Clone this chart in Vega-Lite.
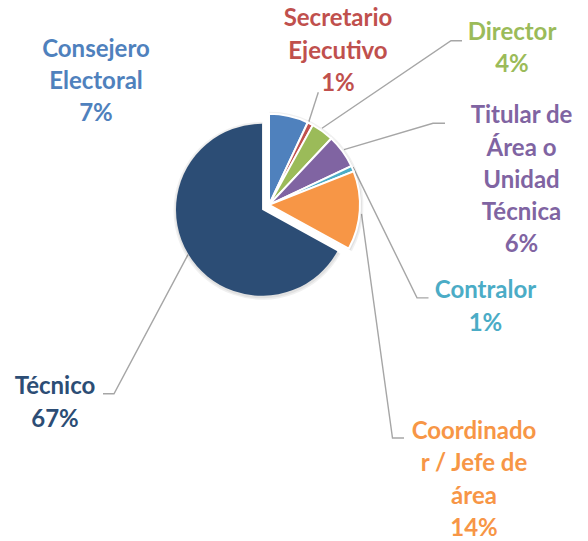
{
  "$schema": "https://vega.github.io/schema/vega-lite/v6.json",
  "width": 588,
  "height": 541,
  "padding": 0,
  "autosize": {"type": "fit", "contains": "padding"},
  "background": "white",
  "config": {"view": {"stroke": null}},
  "datasets": {
    "slices": [
      {"cat": "Consejero Electoral", "pct": 7, "ord": 1},
      {"cat": "Secretario Ejecutivo", "pct": 1, "ord": 2},
      {"cat": "Director", "pct": 4, "ord": 3},
      {"cat": "Titular de Área o Unidad Técnica", "pct": 6, "ord": 4},
      {"cat": "Contralor", "pct": 1, "ord": 5},
      {"cat": "Coordinador / Jefe de área", "pct": 14, "ord": 6},
      {"cat": "Técnico", "pct": 67, "ord": 7}
    ],
    "labels": [
      {"cat": "Consejero Electoral", "text": "Consejero\nElectoral\n7%", "x": 96, "y": 57},
      {"cat": "Secretario Ejecutivo", "text": "Secretario\nEjecutivo\n1%", "x": 338, "y": 26.5},
      {"cat": "Director", "text": "Director\n4%", "x": 512, "y": 40},
      {"cat": "Titular de Área o Unidad Técnica", "text": "Titular de\nÁrea o\nUnidad\nTécnica\n6%", "x": 521.5, "y": 124},
      {"cat": "Contralor", "text": "Contralor\n1%", "x": 485.5, "y": 300},
      {"cat": "Coordinador / Jefe de área", "text": "Coordinado\nr / Jefe de\nárea\n14%", "x": 474, "y": 441.5},
      {"cat": "Técnico", "text": "Técnico\n67%", "x": 55, "y": 396.5}
    ],
    "leaders": [
      {"cat": "Secretario Ejecutivo", "k": 1, "x": 318.3, "y": 92.7},
      {"cat": "Secretario Ejecutivo", "k": 2, "x": 308.5, "y": 123.5},
      {"cat": "Director", "k": 1, "x": 462, "y": 41},
      {"cat": "Director", "k": 2, "x": 451, "y": 41},
      {"cat": "Director", "k": 3, "x": 322, "y": 129},
      {"cat": "Titular de Área o Unidad Técnica", "k": 1, "x": 445, "y": 124},
      {"cat": "Titular de Área o Unidad Técnica", "k": 2, "x": 433, "y": 124},
      {"cat": "Titular de Área o Unidad Técnica", "k": 3, "x": 344, "y": 150.5},
      {"cat": "Contralor", "k": 1, "x": 428.5, "y": 299.5},
      {"cat": "Contralor", "k": 2, "x": 417, "y": 299.5},
      {"cat": "Contralor", "k": 3, "x": 353, "y": 168},
      {"cat": "Coordinador / Jefe de área", "k": 1, "x": 404, "y": 440.5},
      {"cat": "Coordinador / Jefe de área", "k": 2, "x": 392.5, "y": 440.5},
      {"cat": "Coordinador / Jefe de área", "k": 3, "x": 361.5, "y": 215},
      {"cat": "Técnico", "k": 1, "x": 103, "y": 396},
      {"cat": "Técnico", "k": 2, "x": 114, "y": 396},
      {"cat": "Técnico", "k": 3, "x": 188, "y": 256}
    ]
  },
  "layer": [
    {
      "data": {"name": "leaders"},
      "mark": {"type": "line", "color": "#A6A6A6", "strokeWidth": 1.4},
      "encoding": {
        "x": {"field": "x", "type": "quantitative", "scale": {"domain": [0, 588], "nice": false, "zero": false}, "axis": null},
        "y": {"field": "y", "type": "quantitative", "scale": {"domain": [0, 541], "nice": false, "zero": false, "reverse": true}, "axis": null},
        "detail": {"field": "cat"},
        "order": {"field": "k"}
      }
    },
    {
      "data": {"name": "slices"},
      "mark": {"type": "arc", "outerRadius": 89, "fill": "#000000"},
      "encoding": {
        "x": {"datum": 262.5, "type": "quantitative"},
        "y": {"datum": 212, "type": "quantitative"},
        "theta": {"field": "pct", "type": "quantitative", "stack": true},
        "order": {"field": "ord"},
        "opacity": {"condition": {"test": "datum.cat === 'Técnico'", "value": 0.06}, "value": 0}
      }
    },
    {
      "data": {"name": "slices"},
      "mark": {"type": "arc", "outerRadius": 87.5, "fill": "#000000"},
      "encoding": {
        "x": {"datum": 262.5, "type": "quantitative"},
        "y": {"datum": 212, "type": "quantitative"},
        "theta": {"field": "pct", "type": "quantitative", "stack": true},
        "order": {"field": "ord"},
        "opacity": {"condition": {"test": "datum.cat === 'Técnico'", "value": 0.06}, "value": 0}
      }
    },
    {
      "data": {"name": "slices"},
      "mark": {"type": "arc", "outerRadius": 86},
      "encoding": {
        "x": {"datum": 262, "type": "quantitative"},
        "y": {"datum": 211, "type": "quantitative"},
        "theta": {"field": "pct", "type": "quantitative", "stack": true},
        "order": {"field": "ord"},
        "color": {"field": "cat", "type": "nominal", "legend": null,
          "scale": {"domain": ["Consejero Electoral", "Secretario Ejecutivo", "Director", "Titular de Área o Unidad Técnica", "Contralor", "Coordinador / Jefe de área", "Técnico"],
                    "range": ["#4F81BD", "#C0504D", "#9BBB59", "#8064A2", "#4BACC6", "#F79646", "#2C4D75"]}},
        "opacity": {"condition": {"test": "datum.cat === 'Técnico'", "value": 1}, "value": 0}
      }
    },
    {
      "data": {"name": "slices"},
      "mark": {"type": "arc", "outerRadius": 94, "fill": "#000000"},
      "encoding": {
        "x": {"datum": 269.5, "type": "quantitative"},
        "y": {"datum": 207, "type": "quantitative"},
        "theta": {"field": "pct", "type": "quantitative", "stack": true},
        "order": {"field": "ord"},
        "opacity": {"condition": {"test": "datum.cat === 'Técnico'", "value": 0}, "value": 0.06}
      }
    },
    {
      "data": {"name": "slices"},
      "mark": {"type": "arc", "outerRadius": 92.5, "fill": "#000000"},
      "encoding": {
        "x": {"datum": 269.5, "type": "quantitative"},
        "y": {"datum": 207, "type": "quantitative"},
        "theta": {"field": "pct", "type": "quantitative", "stack": true},
        "order": {"field": "ord"},
        "opacity": {"condition": {"test": "datum.cat === 'Técnico'", "value": 0}, "value": 0.06}
      }
    },
    {
      "data": {"name": "slices"},
      "mark": {"type": "arc", "outerRadius": 91, "stroke": "white", "strokeWidth": 2},
      "encoding": {
        "x": {"datum": 269, "type": "quantitative"},
        "y": {"datum": 206, "type": "quantitative"},
        "theta": {"field": "pct", "type": "quantitative", "stack": true},
        "order": {"field": "ord"},
        "color": {"field": "cat", "type": "nominal", "legend": null},
        "opacity": {"condition": {"test": "datum.cat === 'Técnico'", "value": 0}, "value": 1}
      }
    },
    {
      "data": {"name": "labels"},
      "mark": {"type": "text", "font": "Lato", "fontWeight": "bold", "fontSize": 24, "lineHeight": 32.3, "lineBreak": "\n", "align": "center", "baseline": "alphabetic"},
      "encoding": {
        "x": {"field": "x", "type": "quantitative"},
        "y": {"field": "y", "type": "quantitative"},
        "text": {"field": "text"},
        "color": {"field": "cat", "type": "nominal", "legend": null}
      }
    }
  ]
}
